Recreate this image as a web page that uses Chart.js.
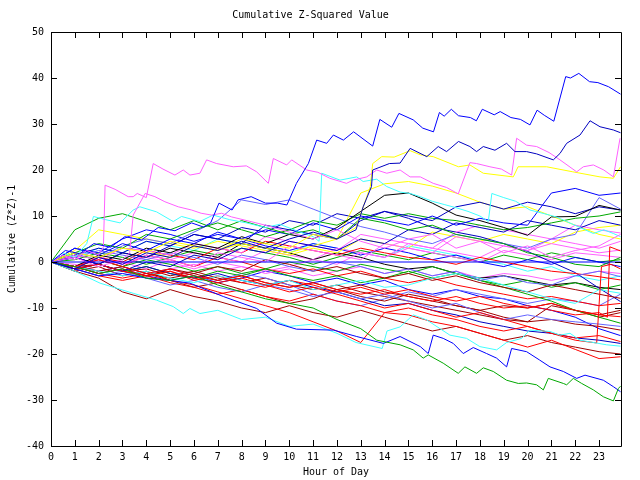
<!DOCTYPE html>
<html>
<head>
<meta charset="utf-8">
<script src="https://cdn.jsdelivr.net/npm/chart.js@4.4.1/dist/chart.umd.min.js"></script>
<style>
  html, body { margin: 0; padding: 0; background: #fff; }
  canvas { display: block; }
</style>
</head>
<body>
<canvas id="zChart" width="640" height="480"></canvas>
<script>
// ==========================================
// DATA
// ==========================================
const hourTicks = [0,1,2,3,4,5,6,7,8,9,10,11,12,13,14,15,16,17,18,19,20,21,22,23];
const valueTicks = [-40,-30,-20,-10,0,10,20,30,40,50];

// hourly grid shared by most runs
const hours = [0,1,2,3,4,5,6,7,8,9,10,11,12,13,14,15,16,17,18,19,20,21,22,23,23.9];

// reference line at zero
const zeroX = [0, 23.9];
const zeroY = [0, 0];

// traced runs with their own sample times
const topBlueX = [0,0.6,1.2,1.8,2.5,3.1,3.8,4.5,5.2,5.9,6.4,6.7,7.05,7.6,7.85,8.4,9,9.5,9.9,10.3,10.8,11.15,11.57,11.85,12.27,12.7,13.5,13.8,14.3,14.6,15.2,15.6,16.05,16.3,16.5,16.8,17.1,17.6,17.85,18.1,18.6,18.85,19.3,19.7,20.1,20.4,20.7,21.1,21.6,21.8,22.15,22.6,22.95,23.4,23.9];
const topBlueY = [0,2.5,1.8,4,3.2,5.5,4.8,7.5,6.8,8.5,7.6,8.5,12.8,11.3,13.5,14.2,12.8,12.8,12.4,17.1,21.4,26.5,25.8,27.6,26.5,28.3,25.2,31,29.3,32.3,30.9,29.1,28.3,32.5,31.7,33.2,31.8,31.4,30.7,33.2,32,32.7,31.4,31,29.8,33,31.9,30.6,40.3,40,41,39.2,39,38.1,36.5];

const navyX = [0,1,2,3,4,5,6,7,8,9,10,11,12,12.8,13.1,13.45,13.5,14.2,14.65,15.07,15.77,16.25,16.6,17.1,17.58,17.86,18.14,18.63,19.12,19.47,19.96,20.38,21.08,21.36,21.64,22.2,22.62,23.04,23.6,23.9];
const navyY = [0,-1.5,1,-0.5,2,1,3.5,2.5,4.5,3,5,6.5,5,7,12,16.4,20,21.4,21.5,24.7,22.9,25.1,24,26.2,25.1,24,25.1,24.3,25.8,24,24,23.5,22.2,23.6,25.8,27.6,30.7,29.4,28.7,28.1];

const topPinkX = [0,0.5,1,1.5,2,2.2,2.27,2.69,3.24,3.45,3.62,4.0,4.29,4.7,5.2,5.55,5.83,6.25,6.53,6.95,7.65,8.2,8.63,9.12,9.33,9.61,9.89,10.1,10.73,11.2,11.7,12.4,12.68,13.25,13.67,14.09,14.65,15.07,15.5,16.04,16.6,17.09,17.58,17.86,18.42,18.9,19.33,19.54,19.96,20.38,20.9,21.36,22.06,22.34,22.76,23.2,23.6,23.88];
const topPinkY = [0,1.5,0.5,2.5,1.5,3.3,16.7,15.8,14.2,14.2,14.9,14.0,21.4,20.2,18.9,20,18.9,19.3,22.2,21.4,20.7,20.9,19.6,17.1,22.5,21.8,21.1,22.2,20,19.5,18.2,17.1,17.8,18.5,20,19.3,20,18.5,18.5,17.1,16.2,14.8,21.6,21.4,20.7,20.2,18.9,26.9,25.4,25.1,23.8,22.2,19.6,20.7,21.1,20,18.5,26.9];

const pink2X = [0,1,2,3,3.3,3.45,3.95,4.36,4.78,5.34,5.9,6.3,6.74,7.16,7.58,8.14,9,10,11,12,13,14,15,16,17,18,19,20,21,22,23,23.9];
const pink2Y = [0,1,-1,0.5,2,10.2,14.9,14.2,13.1,12,11.3,10.6,10.2,10.6,9.8,9.1,8,6.5,5,7,4.5,3,5,6,3,4.5,2,3.5,1,2.5,3.5,6];

const upperCyanX = [0,0.5,1,1.5,1.78,2.3,2.9,3.45,3.73,4.43,5.13,5.48,6.25,6.8,7.5,8.2,9,9.6,10.3,11.0,11.25,11.36,12.13,12.83,13.1,13.67,14.09,14.65,15.07,15.5,16.0,16.5,17.0,17.5,18.0,18.35,18.5,19.0,19.5,20.1,20.7,21.2,21.64,22.2,22.76,23.2,23.6,23.9];
const upperCyanY = [0,2,1,4,9.9,9.2,8.5,11.3,12,10.9,8.8,9.9,8.8,10.2,9.2,8.5,7.5,8.2,6.8,5.5,4.5,19.3,17.8,18.5,17.5,18,16.4,15.2,14.9,14.2,13.2,12.5,11.8,11,10,8.8,14.9,14,13.2,11.3,10.5,9.8,8.8,7.5,6.2,7,6.2,5.5];

const upperYellowX = [0,1,2,3,4,5,6,7,8,9,10,11,12,12.8,13.4,13.5,13.88,14.4,15.07,15.5,16.04,17.1,17.58,18.14,19.4,19.6,20.8,21.9,23.04,23.6,23.9];
const upperYellowY = [0,2,1,3,2,4.5,3.5,2.5,5,4,3,6,5,7.5,16.4,21.4,22.9,22.8,24.2,23.3,22.9,20.7,21.1,19.3,18.5,20.7,20.7,19.6,18.5,18.2,20.7];

const lowGreenX = [0,1,2,3,4,5,6,7,8,9,10,11,12,13,13.67,14.65,15.2,15.62,15.83,16.46,17.09,17.37,17.86,18.14,18.56,19.12,19.61,19.96,20.38,20.66,20.87,21.5,21.64,21.92,22.27,22.76,23.18,23.6,23.81,23.9];
const lowGreenY = [0,-1,-2.5,-1.5,-3.5,-4,-3,-5,-6.5,-8,-9,-10,-12.5,-14.5,-17,-18,-19.1,-20.9,-20.2,-22,-24.2,-22.8,-24.2,-23,-23.8,-25.7,-26.4,-26.3,-26.7,-27.8,-25.3,-26.4,-26.7,-25.3,-26.4,-27.8,-29.3,-30.2,-27.5,-27];

const lowBlueX = [0,1,2,3,4,5,5.83,7.23,8.63,9.47,10.3,11.85,12.83,13.95,14.65,15.5,15.83,16.04,16.46,16.88,17.3,17.72,18.28,18.7,19.12,19.33,19.96,20.5,20.94,21.5,22.06,22.41,23.18,23.6,23.9];
const lowBlueY = [0,-1.5,-3,-2.5,-3.5,-4,-4.6,-7.5,-10.1,-13.3,-14.6,-14.8,-16.2,-17.7,-16.2,-18.4,-19.9,-15.9,-16.6,-17.7,-19.9,-18.6,-19.9,-20.9,-22.8,-18.8,-19.5,-21.3,-22.8,-23.8,-25.3,-24.6,-25.7,-27.1,-28.2];

const lowCyanX = [0,1,2.06,3.45,4.43,5.13,5.55,5.83,6.25,7,8,9,10,11,12,12.8,13.9,14.1,14.65,15.2,15.77,16.74,17.44,18,18.7,19.12,19.75,20.1,20.94,21.36,21.78,22.2,23.32,23.9];
const lowCyanY = [0,-2,-4.6,-6.8,-8.3,-9.7,-11.2,-10.1,-11.2,-10.5,-12.5,-12,-14,-13.5,-15.5,-17.5,-18.8,-15,-14.1,-11.5,-12.6,-15.9,-16.6,-18.4,-19.1,-17.5,-16.6,-14.8,-15.1,-15.9,-15.5,-17,-18,-18.3];

const redJumpAX = [0,1,2,3,4,5,6,7,8,9,10,11,12,13,14,15,16,17,18,19,20,21,22,22.9,23.1,23.5,23.9];
const redJumpAY = [0,-1.5,-0.5,-2,-3,-2,-3.5,-4.5,-3.5,-5,-6.5,-5.5,-7,-8.5,-10,-9,-10.5,-12,-11,-12.5,-14,-15.5,-17,-17.6,-1,-0.5,-1.5];

const redJumpBX = [0,1,2,3,4,5,6,7,8,9,10,11,12,13,14,15,16,17,18,19,20,21,22,23,23.35,23.45,23.9];
const redJumpBY = [0,-1,0.5,-1,-2.5,-1.5,-3,-4,-3,-4.5,-5.5,-4.5,-6,-7,-6,-7.5,-8.5,-7.5,-9,-10,-9.5,-10.5,-11.5,-11,-12,3.3,2.4];

// runs on the hourly grid
const greenHigh = [0,7,9.5,10.5,8.8,7,9,7,9,7.5,6,7,5,9.5,8.5,7,8,6,5,4,2,1,-0.5,-1,1];
const blue15 = [0,3,1.5,4,2.5,5,4,6.5,5,7,6,8.5,7,10,9,8,10,8,9.5,8.5,8,15,16,14.5,15];
const black11 = [0,-1,1.5,0.5,3,2,4,3,5.5,4,6,5,7.5,11,14.5,15,12.8,10.2,9,7.5,5.8,9.8,9.9,12.3,11.3];
const navy11 = [0,1,-0.5,2,1,3.5,6,5,4,8,7,6,5,9,11,10,9,12,13,11.5,13,12,10.5,12,11.3];
const green11 = [0,2,4,3,6,5,7,8.5,7,5.5,7,9,8,10.5,9.5,10.5,9.5,9,8,7,7.5,8.5,9.5,10,10.9];
const slate11 = [0,2,1,3.5,5,4,6.5,9,13.5,12.5,13.5,11.5,9.5,7.7,6.5,5,4,6,5,4,3,5,6,14,11.5];
const navy8 = [0,-1.5,-0.5,-2,0,-1,1.5,0.5,3,2,4.5,3.5,2.5,5,4,7,6,8.5,7.5,6.5,9,8,7,9,8];
const pink6 = [0,1.5,0.5,3,2.5,1.5,4,3,2,5.5,4.5,3.5,2.5,6,5,4,3,6.5,8,7,6,5,8,7,6.3];
const yellow5 = [0,2,1,3,2.5,1,3.5,2.5,4,3,2,3.5,5,15,17,17.5,16.5,15,13,11.5,12,10,8,6,5];
const pink3 = [0,-1,0.5,-0.5,1.5,0.5,-1,2,1,0,3.5,2.5,1.5,0.5,4,3,2,5.5,4.5,3.5,2.5,4,3,2,2.6];
const slateM3 = [0,1,2.5,1.5,0.5,2,1,-0.5,1.5,0.5,-1,-2,0,-1,-2.5,-1.5,-3,-2,-4,-3,-4.5,-5,-3,-2,-3.2];
const redM4 = [0,-1,1,0,2.5,1.5,0.5,3,2,4.5,3.5,2.5,1.5,3,2,1,0.5,-0.5,1,0,-1,-2,-2.5,-3.2,-3.9];
const cyanM7 = [0,-1,-2,-3,-2,-3.5,-4.5,-3,-4,-5,-4,-6,-5,-4,-5.5,-5,-3.5,-2.5,-3.5,-5,-6.5,-8,-9,-6,-6.8];
const darkRedM8 = [0,-1.5,-0.5,-2,-3,-1.5,-2.5,-1,-2,0.5,-0.5,-2,-1,-2.5,-3.5,-2.5,-4,-3,-4.5,-5.5,-6.5,-5,-6,-7,-7.9];
const navyM9 = [0,1.5,3,2,4.5,3.5,6,5,7.5,6.5,9,8,10.5,9.5,11,9.5,7.5,6.5,5.5,4,2.3,0,-2.3,-5.7,-8.6];
const redM12 = [0,-1,-2.5,-1.5,-3,-2,-4,-3,-4.5,-5.5,-4,-5,-6.5,-5.5,-7,-6,-7.5,-8.5,-7.5,-9,-10,-9,-10.5,-11.5,-11.9];
const greenM13 = [0,1.5,0.5,-1,0.5,-0.5,-2,-1,-2.5,-1.5,0,-1,-2,-0.5,-1.5,-2.5,-1,-2.5,-4,-5.5,-7,-8.5,-10.5,-12,-13.3];
const slateM14 = [0,-1.5,-3,-2,-3.5,-5,-4,-5.5,-6.5,-5,-6,-7.5,-6.5,-8,-7,-8.5,-10,-9,-11,-12.5,-11.5,-12.5,-13,-13.5,-14];
const darkRedM15 = [0,-1,-2,-1,-2.5,-3.5,-2.5,-4,-3,-4.5,-5.5,-4.5,-6,-5,-6.5,-7.5,-8.5,-9.5,-10.5,-12,-13,-12.5,-13.5,-14,-14.8];
const redM17 = [0,-1.5,-3,-4,-3,-4.5,-5.5,-7,-6,-7.5,-8.5,-7,-8.5,-9.5,-11,-10,-11.5,-12.5,-14,-15,-14,-15.5,-16.5,-16,-17.3];
const navyM18 = [0,1,-0.5,-2,-1,-2.5,-3.5,-2.5,-4,-5,-4,-5.5,-6.5,-8,-9.5,-9,-10.5,-11.5,-13,-14,-15,-15.5,-16.5,-17,-17.7];
const redM21 = [0,-1,-2.5,-3.5,-2.5,-4,-5,-6.5,-8,-9.5,-11,-13,-15,-17.5,-11,-11.5,-13,-14,-15.5,-17,-18.5,-17,-19,-21,-20.6];
const darkRedM11 = [0,-2,-1,-3,-2,-4,-5.5,-4.5,-6,-7.5,-9,-8,-6,-7.5,-8.5,-7,-8,-9.5,-10.5,-9.5,-10,-9,-10.5,-12,-11];
const greenM5 = [0,-1.5,-0.5,-2,-1,-2.5,-3.5,-2,-3,-1.5,-3,-4,-3,-4.5,-3.5,-2,-3.5,-2.5,-4,-5,-4,-5.5,-4.5,-6,-5];
const pink1 = [0,2,1,-0.5,1,0,-1.5,0,-1,-2,-1,0.5,-0.5,2,1,3,2,1,0,2.5,1.5,0.5,2,1.5,1];
const yellow8 = [0,2.5,7,6,5,4,3,4.5,3.5,2.5,1.5,3,2,5,4,3,6.5,5.5,4.5,6,5,4,6.5,7.5,8];
const blackM6 = [0,1,-0.5,2,1,3,2,1,4,3,2,0.5,2,1,-0.5,-1.5,-1,-2.5,-3.5,-3,-4,-5,-4.5,-5.5,-6];
const pink4 = [0,-1,1,0,-1.5,0.5,2,1,0,2.5,1.5,0.5,3,2,1,4,3,2,1,3.5,2.5,5,4,3,4.5];
const blueM1 = [0,3,2,5,7,6,4.5,6,5,3.5,2.5,4,3,1.5,3,2,0.5,1.5,0,-1,0.5,-0.5,1,0,-1];
const darkRedM20 = [0,-2,-3.5,-6.5,-8,-6,-7.5,-8.5,-10,-11,-9.5,-11,-12,-10.5,-12,-13.5,-15,-14,-15.5,-17,-16,-17.5,-18.5,-19.5,-20];
const redM9 = [0,-1,0.5,-1,1.5,0.5,-1,1,0,-1.5,-2.5,-1.5,-3,-2,-3.5,-4.5,-3.5,-5,-6,-7,-8,-7.5,-8.5,-9.5,-9];
const slateM7 = [0,-1,-2,-1,-2.5,-1.5,-3,-4,-2.5,-3.5,-5,-7,-8.5,-9.5,-8,-6.5,-7.5,-6,-7,-8,-9,-8,-8.5,-9.5,-7];
const green0 = [0,0.5,2,1,-0.5,1,2.5,1.5,3,2,1,-0.5,1,2.5,1.5,0.5,2,1,0,1.5,0.5,2,1,0,0.5];
const darkRedM10 = [0,-1,-0.5,-2,-1.5,-3,-2,-3.5,-4.5,-3.5,-5,-6,-5,-6.5,-7.5,-8.5,-9.5,-10.5,-11.5,-12.5,-13,-9.5,-10.5,-11.5,-10.5];
const cyanM3 = [0,1,3,2,4.5,3.5,2.5,5,4,3,2,4,3,2,1,3.5,2.5,1.5,0.5,-0.5,-2,-1,-3,-4,-3];
const pinkM2 = [0,-0.5,-2,-1,-2.5,-1.5,-0.5,-2,-1,-2.5,-1.5,-3,-2,-1,-2.5,-1.5,-3,-2,-3.5,-2.5,-3,-4,-3,-2,-2.5];
const blueM16 = [0,-1,-2.5,-1.5,-3,-4,-3,-4.5,-3.5,-2,-3,-4.5,-3.5,-5,-4,-6,-7,-6,-7.5,-8,-9.5,-10.5,-12,-14.5,-16];

// ==========================================
// COLOURS
// ==========================================
const RED = '#ff0000', GREEN = '#00a800', BLUE = '#0000ff', NAVY = '#0000c0',
      PINK = '#ff60ff', CYAN = '#40ffff', DARKRED = '#a00000', YELLOW = '#ffff00',
      BLACK = '#000000', SLATE = '#6464ff';

// [x values, y values, colour] - first entry is drawn on top
const runs = [
    [zeroX, zeroY, BLUE],
    [topBlueX, topBlueY, BLUE],
    [navyX, navyY, NAVY],
    [topPinkX, topPinkY, PINK],
    [upperYellowX, upperYellowY, YELLOW],
    [pink2X, pink2Y, PINK],
    [upperCyanX, upperCyanY, CYAN],
    [lowGreenX, lowGreenY, GREEN],
    [lowBlueX, lowBlueY, BLUE],
    [lowCyanX, lowCyanY, CYAN],
    [redJumpAX, redJumpAY, RED],
    [redJumpBX, redJumpBY, RED],
    [hours, greenHigh, GREEN],
    [hours, blue15, BLUE],
    [hours, black11, BLACK],
    [hours, navy11, NAVY],
    [hours, green11, GREEN],
    [hours, slate11, SLATE],
    [hours, navy8, NAVY],
    [hours, pink6, PINK],
    [hours, yellow5, YELLOW],
    [hours, pink3, PINK],
    [hours, slateM3, SLATE],
    [hours, redM4, RED],
    [hours, cyanM7, CYAN],
    [hours, darkRedM8, DARKRED],
    [hours, navyM9, NAVY],
    [hours, redM12, RED],
    [hours, greenM13, GREEN],
    [hours, slateM14, SLATE],
    [hours, darkRedM15, DARKRED],
    [hours, redM17, RED],
    [hours, navyM18, NAVY],
    [hours, redM21, RED],
    [hours, darkRedM11, DARKRED],
    [hours, greenM5, GREEN],
    [hours, pink1, PINK],
    [hours, yellow8, YELLOW],
    [hours, blackM6, BLACK],
    [hours, pink4, PINK],
    [hours, blueM1, BLUE],
    [hours, darkRedM20, DARKRED],
    [hours, redM9, RED],
    [hours, slateM7, SLATE],
    [hours, green0, GREEN],
    [hours, darkRedM10, DARKRED],
    [hours, cyanM3, CYAN],
    [hours, pinkM2, PINK],
    [hours, blueM16, BLUE]
];

const datasets = runs.map(([xs, ys, color]) => ({
    data: xs.map((x, i) => ({ x: x, y: ys[i] })),
    borderColor: color,
    borderWidth: 1,
    pointRadius: 0,
    tension: 0,
    fill: false
}));

// ==========================================
// FRAME + INWARD TICK MARKS (all four sides)
// ==========================================
const frameTicks = {
    id: 'frameTicks',
    afterDraw(chart) {
        const { ctx, chartArea: a, scales: { x, y } } = chart;
        ctx.save();
        ctx.strokeStyle = '#000';
        ctx.lineWidth = 1;
        ctx.beginPath();
        ctx.rect(a.left + 0.5, a.top + 0.5, a.right - a.left, a.bottom - a.top);
        hourTicks.forEach(h => {
            const px = Math.round(x.getPixelForValue(h)) + 0.5;
            ctx.moveTo(px, a.bottom); ctx.lineTo(px, a.bottom - 6);
            ctx.moveTo(px, a.top); ctx.lineTo(px, a.top + 6);
        });
        valueTicks.forEach(v => {
            const py = Math.round(y.getPixelForValue(v)) + 0.5;
            ctx.moveTo(a.left, py); ctx.lineTo(a.left + 6, py);
            ctx.moveTo(a.right, py); ctx.lineTo(a.right - 6, py);
        });
        ctx.stroke();
        ctx.restore();
    }
};

Chart.defaults.font.family = "'DejaVu Sans Mono', monospace";
Chart.defaults.font.size = 10;
Chart.defaults.color = '#000';

new Chart(document.getElementById('zChart'), {
    type: 'line',
    data: { datasets: datasets },
    plugins: [frameTicks],
    options: {
        responsive: false,
        animation: false,
        layout: { padding: { left: 0, right: 19, top: 0, bottom: 0 } },
        plugins: {
            legend: { display: false },
            tooltip: { enabled: false },
            title: {
                display: true,
                text: 'Cumulative Z-Squared Value',
                color: '#000',
                font: { size: 10, weight: 'normal' },
                padding: { top: 9, bottom: 11 }
            }
        },
        scales: {
            x: {
                type: 'linear',
                min: 0,
                max: 23.92,
                afterBuildTicks: s => { s.ticks = hourTicks.map(v => ({ value: v })); },
                afterFit: s => { s.height = 34; },
                grid: { display: false, drawTicks: false },
                border: { display: false },
                ticks: { padding: 5, maxRotation: 0, autoSkip: false, color: '#000' },
                title: { display: true, text: 'Hour of Day', color: '#000', padding: { top: 0, bottom: 2 } }
            },
            y: {
                type: 'linear',
                min: -40,
                max: 50,
                afterBuildTicks: s => { s.ticks = valueTicks.map(v => ({ value: v })); },
                afterFit: s => { s.width = 51; },
                grid: { display: false, drawTicks: false },
                border: { display: false },
                ticks: { padding: 7, color: '#000' },
                title: { display: true, text: 'Cumulative (Z*Z)-1', color: '#000', padding: { top: 6, bottom: 0 } }
            }
        }
    }
});
</script>
</body>
</html>
